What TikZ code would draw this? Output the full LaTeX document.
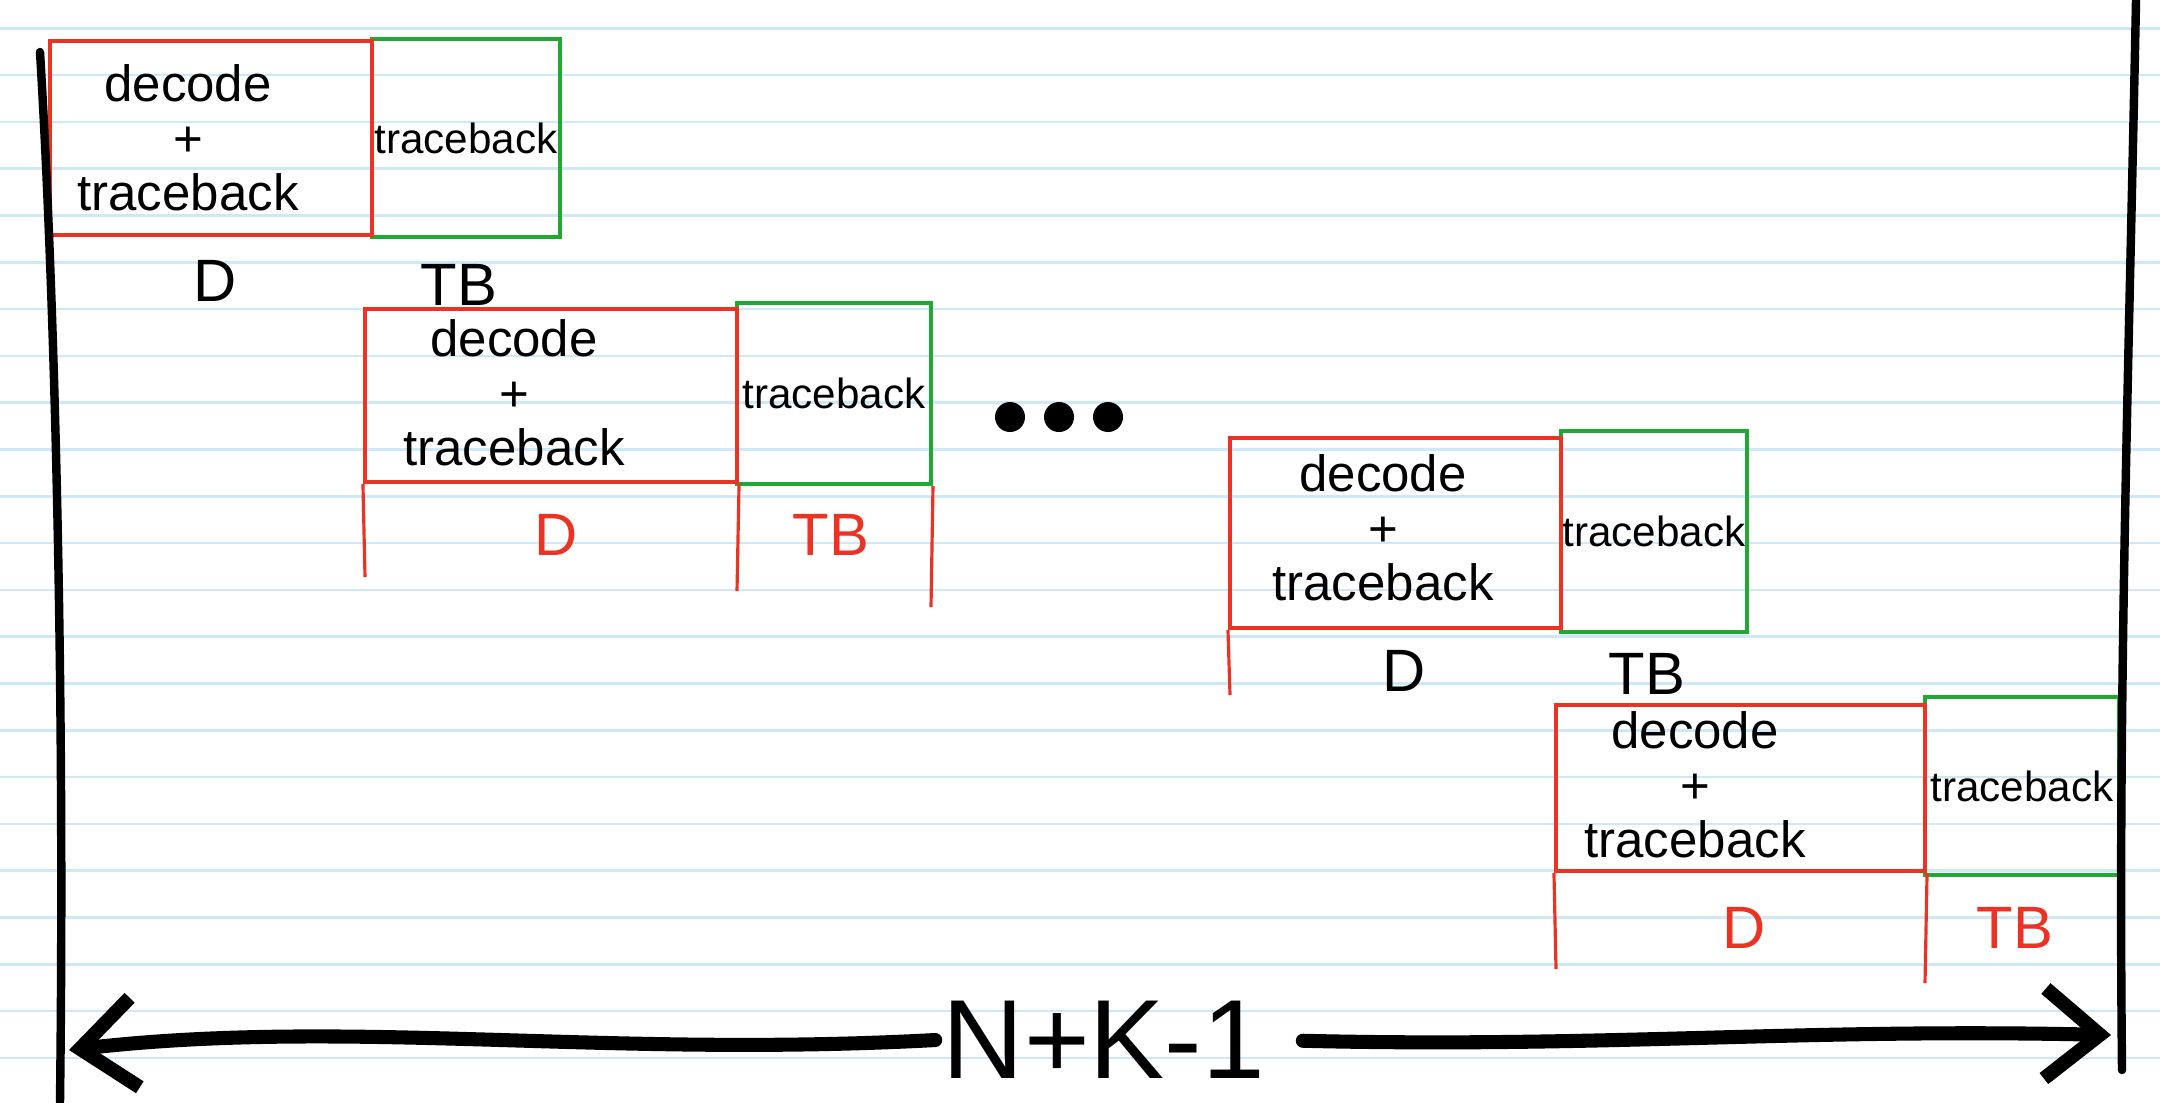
\documentclass[tikz,border=0pt]{standalone}
\usepackage{fontspec}
\setmainfont{Liberation Sans}
\usetikzlibrary{arrows.meta}

\definecolor{penred}{RGB}{235,50,35}
\definecolor{pengreen}{RGB}{30,170,50}
\definecolor{ruleblue}{RGB}{205,232,247}

\begin{document}
\begin{tikzpicture}[x=0.01cm, y=-0.01cm,
  decbox/.style = {draw=penred, line width=1.1pt, inner sep=0pt},
  tbbox/.style = {draw=pengreen, line width=1.1pt, inner sep=0pt,
    font=\fontsize{12}{14}\selectfont},
  work/.style = {align=center, inner sep=0pt, font=\fontsize{14.5}{15.5}\selectfont},
  steplbl/.style = {inner sep=0pt, font=\fontsize{17}{20}\selectfont},
  ext/.style = {penred, line width=0.9pt},
  side/.style = {line width=2.4pt, line cap=round},
  span/.style = {line width=4pt, line cap=round,
    -{Straight Barb[length=5.5mm, width=9mm]}}]

  % paper
  \fill[white] (0,0) rectangle (2179,1102);
  \useasboundingbox (0,0) rectangle (2179,1102);
  \foreach \k in {0,...,22}
    \draw[ruleblue, line width=0.7pt] (0,{28.3+46.8*\k}) -- (2160,{28.3+46.8*\k});

  % first step
  \node[tbbox, minimum width=1.88cm, minimum height=1.98cm] (t1) at (466,138) {traceback};
  \node[decbox, minimum width=3.22cm, minimum height=1.94cm] (d1) at (211,138) {};
  \node[work] (w1) at (188,138) {decode\\+\\traceback};
  \node[steplbl] (l1d) at (215,281) {D};
  \node[steplbl] (l1t) at (459,285) {TB};

  % second step
  \node[tbbox, minimum width=1.94cm, minimum height=1.81cm] (t2) at (834,393.5) {traceback};
  \node[decbox, minimum width=3.72cm, minimum height=1.73cm] (d2) at (551,395.5) {};
  \node[work] (w2) at (514,393) {decode\\+\\traceback};
  \coordinate (e2a) at (365,577);
  \coordinate (e2b) at (737,591);
  \coordinate (e2c) at (931,607);
  \draw[ext] (d2.south west) -- (e2a);
  \draw[ext] (d2.south east) -- (e2b);
  \draw[ext] (t2.south east) -- (e2c);
  \node[steplbl, penred] (l2d) at (556,535) {D};
  \node[steplbl, penred] (l2t) at (831,535) {TB};

  % dots
  \foreach \x in {1010,1059,1108}
    \fill (\x,417) circle (0.15cm);

  % third step
  \node[tbbox, minimum width=1.86cm, minimum height=2.01cm] (t3) at (1654,531.5) {traceback};
  \node[decbox, minimum width=3.31cm, minimum height=1.90cm] (d3) at (1395.5,533) {};
  \node[work] (w3) at (1383,528) {decode\\+\\traceback};
  \coordinate (e3a) at (1230,695);
  \draw[ext] (d3.south west) -- (e3a);
  \node[steplbl] (l3d) at (1404,671) {D};
  \node[steplbl] (l3t) at (1647,674) {TB};

  % last step
  \node[tbbox, minimum width=1.94cm, minimum height=1.78cm] (t4) at (2022,786) {traceback};
  \node[decbox, minimum width=3.69cm, minimum height=1.66cm] (d4) at (1740.5,788) {};
  \node[work] (w4) at (1695,785) {decode\\+\\traceback};
  \coordinate (e4a) at (1556,969);
  \coordinate (e4b) at (1925,983);
  \draw[ext] (d4.south west) -- (e4a);
  \draw[ext] (d4.south east) -- (e4b);
  \node[steplbl, penred] (l4d) at (1744,928) {D};
  \node[steplbl, penred] (l4t) at (2015,928) {TB};

  % frame and total length
  \draw[side] (40,52) .. controls (55,300) and (65,700) .. (60,1102);
  \draw[side] (2136,0) .. controls (2128,400) and (2118,700) .. (2122,1070);
  \node[inner sep=2pt, font=\fontsize{32}{36}\selectfont] (nk) at (1104,1040) {N+K-1};
  \coordinate (spanL) at (69,1050);
  \coordinate (spanR) at (2111,1035);
  \draw[span] (nk.west) .. controls (600,1058) and (350,1018) .. (spanL);
  \draw[span, shorten <=0.3cm] (nk.east) .. controls (1600,1048) and (1800,1028) .. (spanR);
\end{tikzpicture}
\end{document}
